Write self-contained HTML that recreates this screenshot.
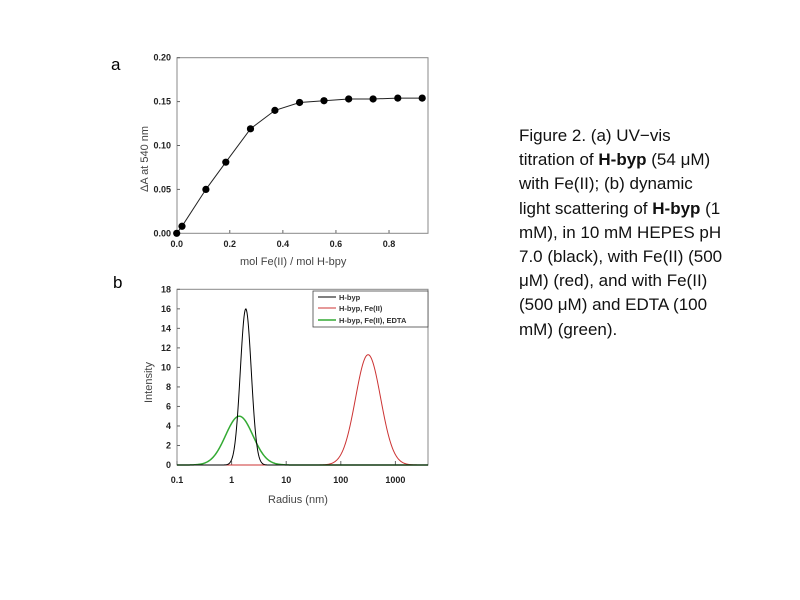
<!DOCTYPE html>
<html><head><meta charset="utf-8"><style>
body{margin:0;background:#fff;width:800px;height:600px;overflow:hidden;font-family:"Liberation Sans",sans-serif}
#cap{position:absolute;left:519px;top:124px;font-size:17px;line-height:24.2px;color:#111;width:204px}
</style></head><body>
<svg id="s" width="800" height="600" style="position:absolute;left:0;top:0" font-family="Liberation Sans, sans-serif">
<text x="111" y="70" font-size="17">a</text>
<text x="113" y="288" font-size="17">b</text>
<rect x="177" y="57.7" width="251" height="175.6" fill="none" stroke="#888" stroke-width="1"/>
<rect x="177" y="289.3" width="251" height="175.7" fill="none" stroke="#888" stroke-width="1"/>
<g id="a" font-size="9" font-weight="bold" fill="#222"></g>
<g id="b" font-size="9" font-weight="bold" fill="#222"></g>
<text x="240" y="265" font-size="11" fill="#444">mol Fe(II) / mol H-bpy</text>
<text transform="translate(148,192) rotate(-90)" font-size="11" fill="#444">ΔA at 540 nm</text>
<text x="268" y="503" font-size="11" fill="#444">Radius (nm)</text>
<text transform="translate(152,403) rotate(-90)" font-size="11" fill="#444">Intensity</text>
<rect x="313" y="291" width="115" height="36" fill="#fff" stroke="#444" stroke-width="0.8"/>
<line x1="318" y1="297" x2="336" y2="297" stroke="#000"/>
<line x1="318" y1="308" x2="336" y2="308" stroke="#c33"/>
<line x1="318" y1="320" x2="336" y2="320" stroke="#3a3" stroke-width="1.5"/>
<g font-size="7.5" font-weight="bold" fill="#333"><text x="339" y="300">H-byp</text><text x="339" y="311">H-byp, Fe(II)</text><text x="339" y="323">H-byp, Fe(II), EDTA</text></g>
</svg>
<div id="cap">Figure 2. (a) UV−vis titration of <b>H-byp</b> (54 μM) with Fe(II); (b) dynamic light scattering of <b>H-byp</b> (1 mM), in 10 mM HEPES pH 7.0 (black), with Fe(II) (500 μM) (red), and with Fe(II) (500 μM) and EDTA (100 mM) (green).</div>
<script>
const NS="http://www.w3.org/2000/svg",s=document.getElementById('s');
function el(t,a,p){const e=document.createElementNS(NS,t);for(const k in a)e.setAttribute(k,a[k]);(p||s).appendChild(e);return e}
const A=document.getElementById('a'),B=document.getElementById('b');
const ax=x=>176.7+x*265.4, ay=y=>233.3-y*878;
for(let i=0;i<=4;i++){const v=i*0.05,y=ay(v);el('text',{x:171,y:y+3,'text-anchor':'end'},A).textContent=v.toFixed(2);el('line',{x1:177,x2:180,y1:y,y2:y,stroke:'#666'})}
for(let i=0;i<=4;i++){const v=i*0.2,x=ax(v);el('text',{x:x,y:247,'text-anchor':'middle'},A).textContent=v.toFixed(1);el('line',{x1:x,x2:x,y1:233,y2:230,stroke:'#666'})}
const P=[[0,0],[0.02,0.008],[0.11,0.05],[0.185,0.081],[0.278,0.119],[0.37,0.14],[0.463,0.149],[0.555,0.151],[0.648,0.153],[0.74,0.153],[0.833,0.154],[0.925,0.154]];
let d='M'+P.map(p=>ax(p[0]).toFixed(1)+','+ay(p[1]).toFixed(1)).join(' L');
el('path',{d:d,fill:'none',stroke:'#222','stroke-width':1});
P.forEach(p=>el('circle',{cx:ax(p[0]),cy:ay(p[1]),r:3.6,fill:'#000'}));
const bx=l=>177+(l+1)*54.6, by=v=>465-v*9.76;
for(let i=0;i<=9;i++){const v=i*2,y=by(v);el('text',{x:171,y:y+3,'text-anchor':'end'},B).textContent=v;el('line',{x1:177,x2:180,y1:y,y2:y,stroke:'#666'})}
['0.1','1','10','100','1000'].forEach((t,i)=>{const x=bx(i-1);el('text',{x:x,y:483,'text-anchor':'middle'},B).textContent=t;el('line',{x1:x,x2:x,y1:465,y2:461,stroke:'#666'})});
function g(c,h,sg,col,w){let d='';for(let x=177;x<=428;x+=0.5){const l=(x-177)/54.6-1;const v=h*Math.exp(-((l-c)**2)/(2*sg*sg));d+=(d?'L':'M')+x+','+by(v).toFixed(2)}el('path',{d:d,fill:'none',stroke:col,'stroke-width':w})}
g(2.5,11.3,0.23,'#c33',1);g(0.14,5,0.25,'#3a3',1.5);g(0.26,16,0.1,'#000',1);
</script>
</body></html>
